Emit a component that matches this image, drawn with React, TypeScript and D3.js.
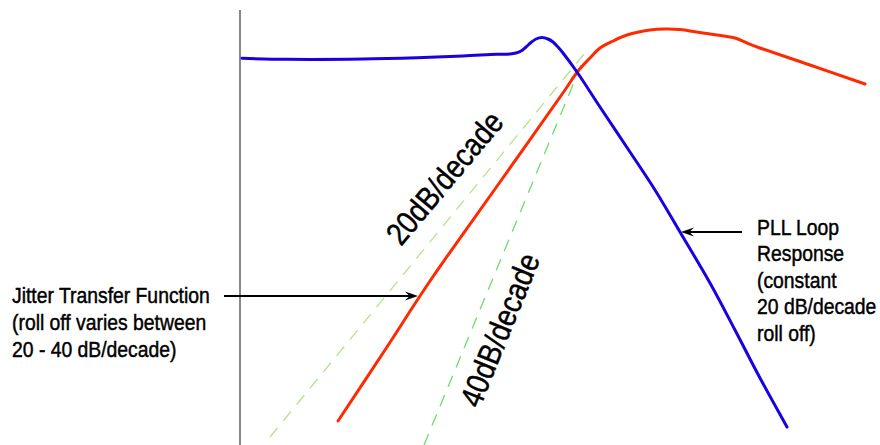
import React from "react";
import * as d3 from "d3";

// Diagram data (x = relative log-frequency position, y = relative gain)
const pllLoopResponse: [number, number][] = [
  [2, 386.7], [47, 385.7], [123, 386], [177, 387.3], [223, 389], [257, 390.7],
  [270, 391], [276, 392], [281, 394], [286, 398], [291, 402.5], [296, 406],
  [302, 407.5], [308, 406], [313, 403], [318, 398], [323, 392], [337, 373],
  [360, 338], [390, 293], [415, 255], [440, 213], [470, 162], [495, 115],
  [520, 67], [547, 18],
];

const jitterTransfer: [number, number][] = [
  [98, 24], [145, 95], [190, 164], [260, 263], [325, 355], [338, 374],
  [350, 387], [360, 397], [373, 404], [387, 410], [410, 415], [425, 416],
  [440, 415.5], [463, 412], [495, 407], [507, 402], [520, 397], [570, 380], [625, 361],
];

const slope20: [number, number][] = [[30, 8], [349, 397]];
const slope40: [number, number][] = [[184, 0], [342, 382]];

const jtfLabel = ["Jitter Transfer Function", "(roll off varies between", "20 - 40 dB/decade)"];
const pllLabel = ["PLL Loop", "Response", "(constant", "20 dB/decade", "roll off)"];
const jtfArrow: [number, number][] = [[-16, 149], [178, 149]];
const pllArrow: [number, number][] = [[502, 213], [441, 213]];

const W = 880;
const H = 445;

export default function App() {
  const x = d3.scaleLinear().domain([0, 640]).range([240, 880]);
  const y = d3.scaleLinear().domain([0, 445]).range([445, 0]);
  const smooth = d3
    .line<[number, number]>()
    .x((d) => x(d[0]))
    .y((d) => y(d[1]))
    .curve(d3.curveCatmullRom.alpha(0.5));
  const straight = d3
    .line<[number, number]>()
    .x((d) => x(d[0]))
    .y((d) => y(d[1]));

  const font = "'Liberation Sans', Arial, Helvetica, sans-serif";

  const arrow = (pts: [number, number][]) => {
    const [a, b] = pts;
    const x1 = x(a[0]), y1 = y(a[1]), x2 = x(b[0]), y2 = y(b[1]);
    const dir = Math.sign(x2 - x1);
    const len = 13, half = 4.5;
    return (
      <g>
        <line x1={x1} y1={y1} x2={x2 - dir * len * 0.6} y2={y2} stroke="#000" strokeWidth={2} />
        <path
          d={`M${x2},${y2} L${x2 - dir * len},${y2 - half} L${x2 - dir * len * 0.65},${y2} L${x2 - dir * len},${y2 + half} Z`}
          fill="#000"
        />
      </g>
    );
  };

  const textStroke = { stroke: "#000", strokeWidth: 0.45 };

  return (
    <svg
      width={W}
      height={H}
      style={{ position: "absolute", left: 0, top: 0, background: "#fff" }}
    >
      <rect width={W} height={H} fill="#fff" />
      {/* vertical axis */}
      <line x1={x(0)} y1={10} x2={x(0)} y2={H} stroke="#888" strokeWidth={2} />

      {/* asymptote guides */}
      <path d={straight(slope20) || ""} stroke="#b9e08e" strokeWidth={1.3} strokeDasharray="12,9" fill="none" />
      <path d={straight(slope40) || ""} stroke="#6cdc6c" strokeWidth={1.3} strokeDasharray="12,9" fill="none" />

      {/* curves */}
      <path d={smooth(jitterTransfer) || ""} stroke="#ff2a00" strokeWidth={3} fill="none" strokeLinecap="round" strokeLinejoin="round" />
      <path d={smooth(pllLoopResponse) || ""} stroke="#1a00e0" strokeWidth={3} fill="none" strokeLinecap="round" strokeLinejoin="round" />

      {/* slope labels */}
      <g transform="translate(453,185) rotate(-50)">
        <text textAnchor="middle" fontFamily={font} fontSize={32} transform="scale(0.86,1)" {...textStroke}>20dB/decade</text>
      </g>
      <g transform="translate(510,334) rotate(-68)">
        <text textAnchor="middle" fontFamily={font} fontSize={32} transform="scale(0.86,1)" {...textStroke}>40dB/decade</text>
      </g>

      {/* annotations */}
      {arrow(jtfArrow)}
      {arrow(pllArrow)}
      <g transform="translate(12,0) scale(0.9,1)">
        {jtfLabel.map((t, i) => (
          <text key={t} x={0} y={303 + i * 27} fontFamily={font} fontSize={21.5} {...textStroke}>
            {t}
          </text>
        ))}
      </g>
      <g transform="translate(757,0) scale(0.9,1)">
        {pllLabel.map((t, i) => (
          <text key={t} x={0} y={235 + i * 26.5} fontFamily={font} fontSize={21.5} {...textStroke}>
            {t}
          </text>
        ))}
      </g>
    </svg>
  );
}
